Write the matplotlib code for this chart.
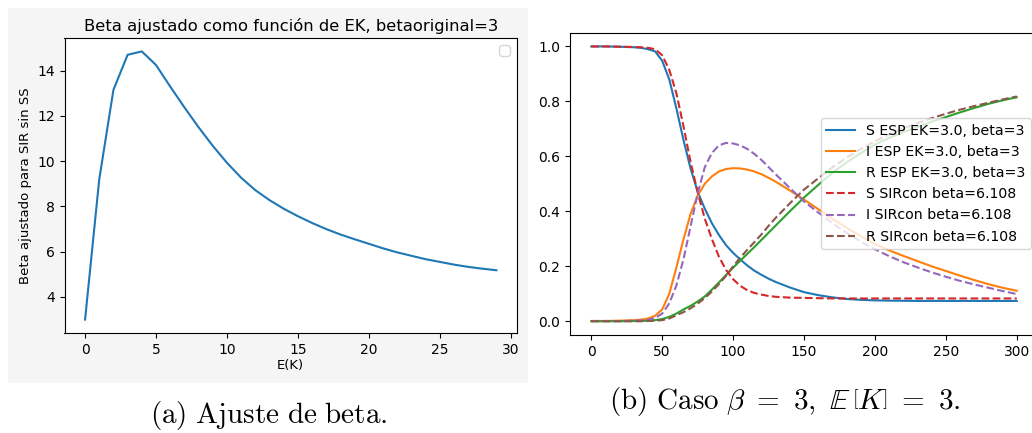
import matplotlib
matplotlib.use("Agg")
import matplotlib.pyplot as plt

plt.rcParams["mathtext.fontset"] = "cm"

# ---- Panel (a): adjusted beta versus E(K) ----
ek_values = list(range(30))
beta_adjusted = [3.0, 9.2, 13.15, 14.7, 14.85, 14.25, 13.3, 12.38, 11.5, 10.68,
                 9.93, 9.27, 8.72, 8.28, 7.9, 7.57, 7.27, 7.0, 6.76, 6.55,
                 6.35, 6.15, 5.97, 5.82, 5.67, 5.55, 5.43, 5.33, 5.25, 5.18]

# ---- Panel (b): ESP model vs. SIR with constant beta ----
t = [0, 10, 20, 30, 35, 40, 45, 50, 55, 60, 65, 70, 75, 80, 85, 90, 95, 100,
     105, 110, 115, 120, 125, 130, 140, 150, 160, 170, 180, 190, 200, 210,
     220, 230, 240, 250, 260, 270, 280, 290, 300]

s_esp = [1.0, 1.0, 0.999, 0.997, 0.995, 0.99, 0.982, 0.948, 0.88, 0.775,
         0.66, 0.556, 0.472, 0.41, 0.357, 0.314, 0.277, 0.249, 0.225, 0.203,
         0.184, 0.169, 0.155, 0.143, 0.123, 0.106, 0.095, 0.087, 0.081, 0.078,
         0.076, 0.075, 0.0745, 0.074, 0.074, 0.074, 0.074, 0.074, 0.074,
         0.074, 0.074]
i_esp = [0.001, 0.001, 0.002, 0.004, 0.006, 0.01, 0.02, 0.043, 0.1, 0.195,
         0.298, 0.39, 0.457, 0.5, 0.527, 0.545, 0.554, 0.557, 0.556, 0.552,
         0.545, 0.535, 0.522, 0.508, 0.476, 0.443, 0.408, 0.373, 0.34, 0.31,
         0.281, 0.258, 0.238, 0.219, 0.2, 0.183, 0.166, 0.15, 0.135, 0.122,
         0.111]
r_esp = [0.0, 0.0, 0.0, 0.001, 0.001, 0.002, 0.004, 0.008, 0.016, 0.028,
         0.043, 0.056, 0.072, 0.09, 0.115, 0.141, 0.168, 0.195, 0.22, 0.245,
         0.27, 0.296, 0.322, 0.348, 0.4, 0.45, 0.496, 0.54, 0.578, 0.612,
         0.643, 0.667, 0.688, 0.707, 0.726, 0.743, 0.76, 0.776, 0.791, 0.804,
         0.815]

s_con = [1.0, 1.0, 0.999, 0.998, 0.997, 0.995, 0.99, 0.968, 0.915, 0.83,
         0.71, 0.58, 0.47, 0.374, 0.3, 0.235, 0.187, 0.153, 0.129, 0.113,
         0.103, 0.097, 0.092, 0.089, 0.086, 0.085, 0.084, 0.083, 0.083, 0.083,
         0.083, 0.083, 0.083, 0.083, 0.083, 0.083, 0.083, 0.083, 0.083, 0.083,
         0.083]
i_con = [0.001, 0.001, 0.001, 0.002, 0.003, 0.005, 0.012, 0.028, 0.065, 0.13,
         0.225, 0.345, 0.465, 0.56, 0.612, 0.64, 0.649, 0.647, 0.64, 0.627,
         0.609, 0.587, 0.561, 0.535, 0.485, 0.436, 0.396, 0.357, 0.322, 0.29,
         0.262, 0.237, 0.215, 0.196, 0.178, 0.162, 0.147, 0.134, 0.122, 0.11,
         0.099]
r_con = [0.0, 0.0, 0.0, 0.0, 0.0, 0.001, 0.002, 0.004, 0.01, 0.022,
         0.033, 0.047, 0.064, 0.084, 0.108, 0.135, 0.165, 0.2, 0.231, 0.26,
         0.288, 0.316, 0.347, 0.376, 0.429, 0.479, 0.52, 0.56, 0.595, 0.627,
         0.655, 0.68, 0.702, 0.721, 0.739, 0.755, 0.77, 0.783, 0.795, 0.807,
         0.818]

series_b = [
    (s_esp, "S ESP EK=3.0, beta=3", "C0", "-"),
    (i_esp, "I ESP EK=3.0, beta=3", "C1", "-"),
    (r_esp, "R ESP EK=3.0, beta=3", "C2", "-"),
    (s_con, "S SIRcon beta=6.108", "C3", "--"),
    (i_con, "I SIRcon beta=6.108", "C4", "--"),
    (r_con, "R SIRcon beta=6.108", "C5", "--"),
]

W, H = 1032, 433
fig = plt.figure(figsize=(W / 100, H / 100), dpi=100, facecolor="white")


def px_rect(x0, y0, x1, y1):
    """Figure-fraction [left, bottom, width, height] from pixel box (top-left origin)."""
    return [x0 / W, 1 - y1 / H, (x1 - x0) / W, (y1 - y0) / H]


# light grey backdrop behind panel (a)
bg = fig.add_axes(px_rect(8, 8, 528, 383), zorder=0)
bg.set_facecolor("#f5f5f5")
bg.set_xticks([])
bg.set_yticks([])
for sp in bg.spines.values():
    sp.set_visible(False)

ax1 = fig.add_axes(px_rect(64.5, 38, 517, 333), zorder=1)
ax1.plot(ek_values, beta_adjusted, color="C0", lw=1.5)
ax1.set_title("Beta ajustado como función de EK, betaoriginal=3", fontsize=11.8, pad=5)
ax1.set_xlabel("E(K)", fontsize=9.5, labelpad=2)
ax1.set_ylabel("Beta ajustado para SIR sin SS", fontsize=9.5)
ax1.set_xticks([0, 5, 10, 15, 20, 25, 30])
ax1.set_yticks([4, 6, 8, 10, 12, 14])
ax1.tick_params(labelsize=10)
ax1.legend(handles=[], loc="upper right")

ax2 = fig.add_axes(px_rect(570, 32.7, 1038, 335), zorder=1)
for ys, lab, col, ls in series_b:
    ax2.plot(t, ys, color=col, ls=ls, lw=1.5, label=lab)
ax2.set_xticks([0, 50, 100, 150, 200, 250, 300])
ax2.set_yticks([0.0, 0.2, 0.4, 0.6, 0.8, 1.0])
ax2.tick_params(labelsize=10)
ax2.legend(loc="center right", fontsize=10.2)

fig.text(269 / W, 1 - 415 / H, r"$\mathrm{(a)\ Ajuste\ de\ beta.}$",
         ha="center", va="center", fontsize=21)
fig.text(785 / W, 1 - 402 / H,
         r"$\mathrm{(b)\ Caso\ }\beta\ =\ 3,\ \mathbb{E}\,\left[K\right]\ =\ 3.$",
         ha="center", va="center", fontsize=21)

fig.savefig("out.png", dpi=100, facecolor="white")
